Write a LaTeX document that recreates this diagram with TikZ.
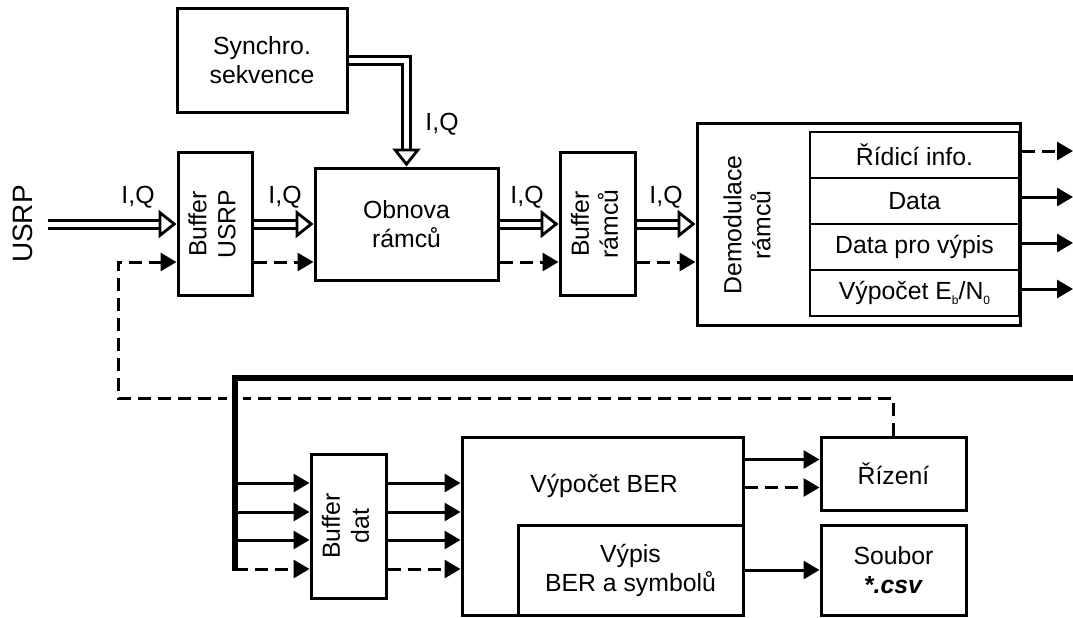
\documentclass[tikz,border=0pt]{standalone}
\usepackage{fontspec}
\setmainfont{Liberation Sans}
\usepackage{graphicx}
\usetikzlibrary{arrows.meta,calc}

% svisly text ve dvou radcich
\newcommand{\svisle}[1]{\rotatebox{90}{\begin{tabular}{@{}c@{}}#1\end{tabular}}}
% maly dolni index
\newcommand{\indx}[1]{\raisebox{-0.35ex}{\fontsize{6}{6}\selectfont #1}}

\begin{document}
\begin{tikzpicture}[x=0.5pt,y=-0.5pt,
    font=\fontsize{12.4}{14.5}\selectfont,
    blok/.style={draw,line width=1.5pt,align=center,inner sep=1pt},
    radek/.style={draw,line width=0.8pt,minimum width=104.5pt,minimum height=23pt,inner sep=0pt},
    sig/.style={line width=1.5pt,-{Triangle[length=8pt,width=9pt]}},
    ctl/.style={sig,dash pattern=on 6.5pt off 3.5pt},
    dbl/.style={double,double distance=2.5pt,line width=1.5pt,shorten >=7pt},
    hrot/.style={line width=1.4pt,-{Triangle[length=9pt,width=14pt,fill=white]}},
    iq/.style={anchor=base,inner sep=0pt}]

    \fill[white] (0,0) rectangle (1073,617);
    \useasboundingbox (0,0) rectangle (1073,617);

    % Horni cast
    \node[rotate=90,anchor=south,inner xsep=0pt,inner ysep=7.5pt,font=\fontsize{14}{16}\selectfont] (usrp) at (48,224) {USRP};
    \node[blok,minimum width=85pt,minimum height=52pt] (synchro) at (262,60) {Synchro.\\sekvence};
    \node[blok,minimum width=37pt,minimum height=71.5pt] (bu) at (215,224) {\svisle{Buffer\\USRP}};
    \node[blok,minimum width=91.5pt,minimum height=56pt] (obnova) at (406.5,224) {Obnova\\rámců};
    \node[blok,minimum width=37.5pt,minimum height=71.5pt] (br) at (597.5,224) {\svisle{Buffer\\rámců}};
    \node[blok,minimum width=161.5pt,minimum height=101pt] (demod) at (858.5,224) {};
    \node (demod-t) at (750,225) {\svisle{Demodulace\\rámců}};

    \foreach \t [count=\i] in {Řídicí info.,Data,Data pro výpis,{Výpočet E\indx{b}/N\indx{0}}}
        \node[radek] (r\i) at (914.5,109+46*\i) {\t};
    \foreach \i in {1,...,4}
        \coordinate (v\i) at (1073,105+46*\i);

    % I,Q - dvojite spoje
    \draw[dbl] (usrp.south) -- (bu.west);
    \draw[hrot] ([xshift=-9pt]bu.west) -- (bu.west);
    \draw[dbl] (bu.east) -- (obnova.west);
    \draw[hrot] ([xshift=-9pt]obnova.west) -- (obnova.west);
    \draw[dbl] (obnova.east) -- (br.west);
    \draw[hrot] ([xshift=-9pt]br.west) -- (br.west);
    \draw[dbl] (br.east) -- (demod.west);
    \draw[hrot] ([xshift=-9pt]demod.west) -- (demod.west);
    \draw[dbl] (synchro.east) -| (obnova.north);
    \draw[hrot] ([yshift=9pt]obnova.north) -- (obnova.north);

    \node[iq] (iq1) at (138,203) {I,Q};
    \node[iq] (iq2) at (285,203) {I,Q};
    \node[iq] (iq3) at (527,203) {I,Q};
    \node[iq] (iq4) at (666,203) {I,Q};
    \node[iq] (iq5) at (442,130) {I,Q};

    % Ridici signaly
    \draw[ctl] ([yshift=-19pt]bu.east) -- ([yshift=-19pt]obnova.west);
    \draw[ctl] ([yshift=-19pt]obnova.east) -- ([yshift=-19pt]br.west);
    \draw[ctl] ([yshift=-19pt]br.east) -- ([yshift=-19pt]demod.west);

    % Vystupy demodulace
    \draw[ctl] (demod.east |- v1) -- (v1);
    \foreach \i in {2,3,4}
        \draw[sig] (demod.east |- v\i) -- (v\i);

    % Dolni cast
    \node[blok,minimum width=37.5pt,minimum height=72pt] (bd) at (348.5,526) {\svisle{Buffer\\dat}};
    \node[blok,minimum width=140.5pt,minimum height=89pt] (ber) at (602.5,526) {};
    \node[anchor=base] (ber-t) at (604,492) {Výpočet BER};
    \node[blok,minimum width=112.5pt,minimum height=45pt] (vypis) at (630.5,570) {Výpis\\BER a symbolů};
    \node[blok,minimum width=72.5pt,minimum height=36.5pt] (rizeni) at (893.5,473.5) {Řízení};
    \node[blok,minimum width=72.5pt,minimum height=45pt] (soubor) at (893.5,570) {Soubor\\\textbf{\textit{*.csv}}};

    % Zpetna vazba rizeni
    \coordinate (zpet) at (118,398);
    \draw[ctl] (rizeni.north) |- (zpet) |- ([yshift=-19pt]bu.west);

    % Sbernice
    \coordinate (buskon) at (1073,378);
    \coordinate (bushorn) at (235,378);
    \coordinate (busdol) at (235,571);
    \draw[line width=3.3pt,preaction={draw=white,line width=8pt}] (buskon) -- (bushorn) -- (busdol);

    \foreach \y/\s [count=\i] in {483/sig,512/sig,540/sig,569/ctl} {
        \coordinate (bus\i) at (235,\y);
        \draw[\s] (bus\i) -- (bus\i -| bd.west);
        \draw[\s] (bus\i -| bd.east) -- (bus\i -| ber.west);
    }

    \draw[sig] ([yshift=7pt]rizeni.west -| ber.east) -- ([yshift=7pt]rizeni.west);
    \draw[ctl] ([yshift=-7pt]rizeni.west -| ber.east) -- ([yshift=-7pt]rizeni.west);
    \draw[sig] (vypis.east) -- (soubor.west);

\end{tikzpicture}
\end{document}
